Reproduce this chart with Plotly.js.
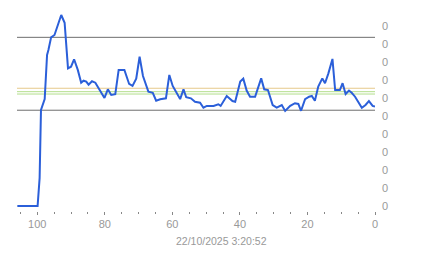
<!DOCTYPE html>
<html>
<head>
<meta charset="utf-8">
<script src="https://cdn.plot.ly/plotly-3.0.1.min.js"></script>
<style>html,body{margin:0;padding:0;background:#fff;}#chart{width:443px;height:258px;}</style>
</head>
<body>
<div id="chart"></div>
<script>
// Series (age index, value)
const xs = [105.9,99.9,99.3,99.0,98.9,97.8,97.5,97.1,96.7,95.9,94.9,92.9,91.9,90.9,90.0,89.1,88.0,87.0,86.3,85.5,84.8,83.8,82.8,82.0,81.1,80.1,79.1,78.1,76.9,75.9,74.2,72.8,71.8,70.7,69.7,68.7,67.1,65.8,64.8,63.6,61.9,60.9,59.9,58.7,57.7,56.7,55.9,54.5,53.3,51.8,50.8,49.8,47.8,46.4,45.7,43.9,42.2,41.4,39.9,39.0,38.0,37.0,35.5,33.7,32.8,31.7,30.3,29.1,27.6,26.6,25.1,23.7,22.7,21.9,20.7,19.5,18.7,17.8,16.8,15.6,14.8,13.8,12.6,11.8,10.4,9.6,8.7,7.7,6.9,5.9,3.9,2.8,1.8,0.7,0];
const ys = [0,0,1.56,3.5,5.33,5.94,6.91,8.39,8.67,9.37,9.5,10.61,10.18,7.65,7.74,8.15,7.56,6.85,6.96,6.91,6.74,6.93,6.85,6.59,6.26,6.0,6.48,6.17,6.21,7.56,7.56,6.78,6.67,7.07,8.29,7.22,6.35,6.29,5.85,5.93,5.98,7.28,6.67,6.26,5.94,6.48,6.04,5.98,5.79,5.74,5.46,5.56,5.56,5.65,5.56,6.11,5.83,5.79,6.91,7.07,6.41,6.07,6.07,7.09,6.48,6.44,5.61,5.46,5.61,5.28,5.56,5.71,5.67,5.29,5.93,6.07,6.11,5.85,6.63,7.09,6.82,7.37,8.17,6.44,6.44,6.82,6.22,6.41,6.29,6.07,5.46,5.61,5.83,5.56,5.52];

// Reference levels
const grayLevels = [9.37, 5.32];
const orangeLevels = [6.54];
const greenLevels = [6.35, 6.22];

// Axis ticks
const yTickVals = [0,1,2,3,4,5,6,7,8,9,10];
const yTickText = ["0","0","0","0","0","0","0","0","0","0","0"];
const xTickVals = [100,80,60,40,20,0];
const xTickText = ["100","80","60","40","20","0"];
const xTitle = "22/10/2025 3:20:52";

function hline(y, color) {
  return {type:'line', xref:'paper', yref:'y', x0:0, x1:1, y0:y, y1:y,
          line:{color:color, width:1}, layer:'below'};
}
const shapes = []
  .concat(grayLevels.map(v => hline(v, '#6e6e6e')))
  .concat(orangeLevels.map(v => hline(v, '#e6c98a')))
  .concat(greenLevels.map(v => hline(v, '#b3de8c')));

const font = {family:'Liberation Sans, Arial, sans-serif', size:11, color:'#999999'};

Plotly.newPlot('chart', [{
  x: xs, y: ys, type:'scatter', mode:'lines',
  line:{color:'#2b5fd9', width:2}, hoverinfo:'skip'
}], {
  width:443, height:258,
  margin:{l:17, r:68, t:8, b:47},
  paper_bgcolor:'#ffffff', plot_bgcolor:'#ffffff',
  showlegend:false,
  font: font,
  shapes: shapes,
  annotations:[{
    text:xTitle, xref:'paper', yref:'paper', x:0.571, y:0,
    xanchor:'center', yanchor:'middle', yshift:-30, showarrow:false,
    font:{family:font.family, size:10.5, color:'#999999'}
  }],
  xaxis:{
    range:[106, 0], showgrid:false, zeroline:false, showline:false,
    tickvals:xTickVals, ticktext:xTickText,
    ticks:'outside', ticklen:3, tickcolor:'#888', tickwidth:1,
    minor:{dtick:5, tick0:0, ticks:'outside', ticklen:2, tickcolor:'#888'},
    tickfont:{family:font.family, size:11, color:'#999999'}
  },
  yaxis:{
    range:[-0.28, 11], side:'right', showgrid:false, zeroline:false, showline:false,
    tickvals:yTickVals, ticktext:yTickText, ticks:'',
    ticklabelstandoff:6,
    tickfont:{family:font.family, size:11, color:'#999999'}
  }
}, {staticPlot:true, displayModeBar:false});
</script>
</body>
</html>
